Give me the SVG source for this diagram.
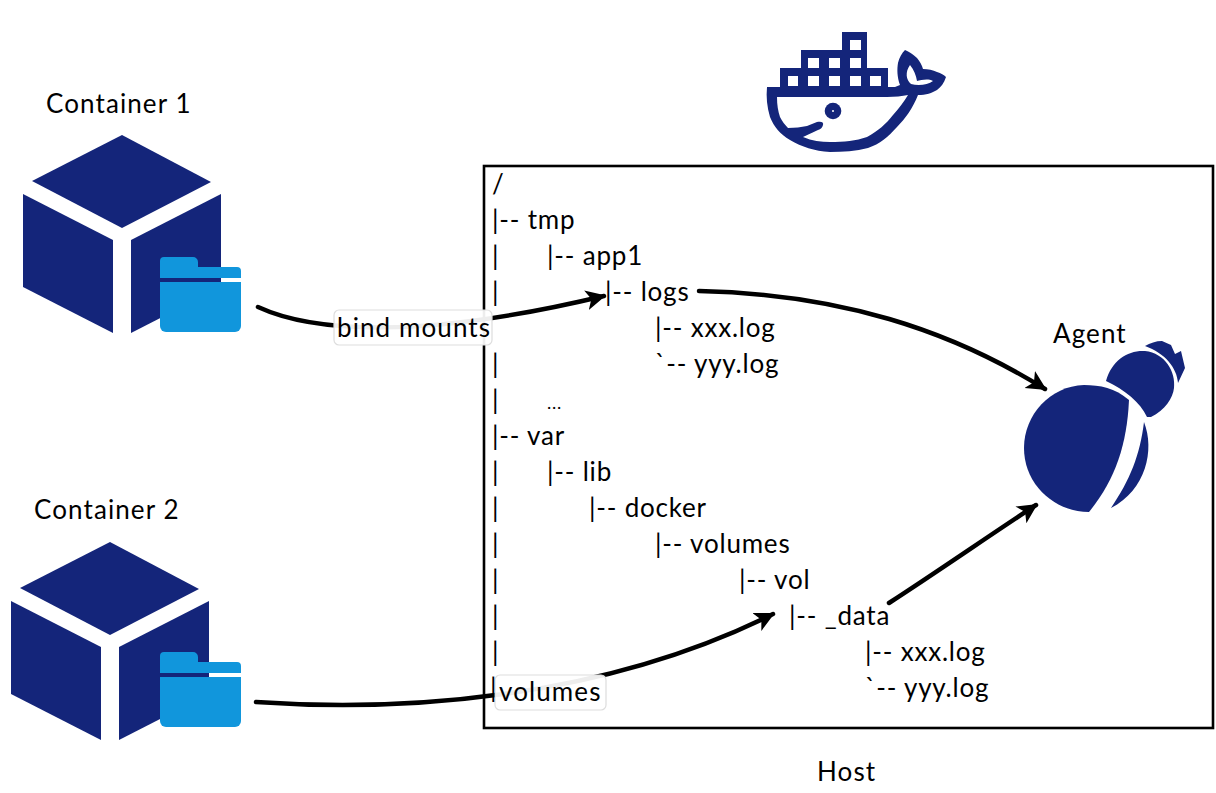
<svg xmlns="http://www.w3.org/2000/svg" width="1216" height="793" viewBox="0 0 1216 793">
<style>
text{font-family:"Lato","Liberation Sans",sans-serif;font-size:26px;letter-spacing:1.1px;fill:#000}
#tree text{letter-spacing:.8px}
.n{fill:#14257a}
.f{fill:#1196dc}
.c{fill:none;stroke:#000;stroke-width:4.500;stroke-linecap:round}
.l{fill:#fff;fill-opacity:.93;stroke:#ddd;stroke-width:1.2}
</style>
<defs>
<marker id="a" markerUnits="userSpaceOnUse" markerWidth="24" markerHeight="24" refX="18" refY="10" orient="auto">
<path d="M0 0L20 10L0 20L5 10Z" fill="#000"/>
</marker>
<g id="cube">
<path class="n" d="M111 0L200 47L111 93L21 46Z"/>
<path class="n" d="M12 59L102 105V198L12 152Z"/>
<path class="n" d="M120 105L210 59V152L120 198Z"/>
</g>
<g id="folder">
<path class="f" d="M0 4a4 4 0 0 1 4-4H33a5 5 0 0 1 5 5V10H77a4 4 0 0 1 4 4V21H0Z"/>
<path class="f" d="M0 25H81V69a6 6 0 0 1-6 6H6a6 6 0 0 1-6-6Z"/>
</g>
</defs>
<rect id="host" x="484" y="166" width="729" height="562" fill="#fff" stroke="#000" stroke-width="2.6"/>
<g id="connectors">
<path class="c" marker-end="url(#a)" d="M258 307C312 332 420 340 604 296"/>
<path class="c" marker-end="url(#a)" d="M699 291C840 294 950 330 1045 389"/>
<path class="c" marker-end="url(#a)" d="M256 702C400 712 600 700 773 614"/>
<path class="c" marker-end="url(#a)" d="M889 603C940 570 990 535 1036 505"/>
</g>
<g id="tree" transform="translate(-1 1)">
<text x="493" y="192">/</text>
<text x="493" y="228">|-- tmp</text>
<text y="264"><tspan x="493">|</tspan><tspan x="548">|-- app1</tspan></text>
<text y="300"><tspan x="493">|</tspan><tspan x="606">|-- logs</tspan></text>
<text x="656" y="336">|-- xxx.log</text>
<text y="372"><tspan x="493">|</tspan><tspan x="656">`-- yyy.log</tspan></text>
<text y="408"><tspan x="493">|</tspan><tspan x="548" font-size="18">...</tspan></text>
<text x="493" y="444">|-- var</text>
<text y="480"><tspan x="493">|</tspan><tspan x="548">|-- lib</tspan></text>
<text y="516"><tspan x="493">|</tspan><tspan x="590">|-- docker</tspan></text>
<text y="552"><tspan x="493">|</tspan><tspan x="656">|-- volumes</tspan></text>
<text y="588"><tspan x="493">|</tspan><tspan x="740">|-- vol</tspan></text>
<text y="624"><tspan x="493">|</tspan><tspan x="790">|-- _data</tspan></text>
<text y="660"><tspan x="493">|</tspan><tspan x="866">|-- xxx.log</tspan></text>
<text y="696"><tspan x="866">`-- yyy.log</tspan></text>
</g>
<g id="label-bind"><rect class="l" x="334" y="310" width="158" height="35" rx="5"/><text x="337" y="337">bind mounts</text></g>
<g id="label-volumes"><rect class="l" x="495" y="675" width="111" height="35" rx="5"/><text x="490" y="697">|</text><text x="499" y="701">volumes</text></g>
<g id="container1"><use href="#cube" x="11" y="135"/><use href="#folder" x="160" y="257"/><text x="46" y="113">Container 1</text></g>
<g id="container2"><use href="#cube" x="-1" y="542"/><use href="#folder" x="160" y="652"/><text x="34" y="519">Container 2</text></g>
<g id="docker">
<path class="n" d="M842 32H867V50H842ZM801 50H867V68H801ZM780 68H888V87H780Z"/>
<path fill="#fff" d="M850 40H861V50H850ZM808 58H819V68H808ZM829 58H840V68H829ZM850 58H861V68H850ZM788 76H798V86H788ZM808 76H819V86H808ZM829 76H840V86H829ZM850 76H861V86H850ZM870 76H881V86H870Z"/>
<path class="n" fill-rule="evenodd" d="M767 87H895L900 85C897 77 897 69 898 63C899 58 902 53 905 50C911 53 914 55 917 58C920 62 922 65 923 69C928 69 933 70 937 72C941 73 944 75 946 77C944 83 941 87 937 90C932 93 926 95 918 95C913 108 905 119 897 127C888 137 880 144 868 148C856 151 843 152 830 152C814 151 802 147 790 140C780 134 774 127 770 117C767 107 766 97 767 87ZM777 97C777 105 778 111 780 117C782 121 785 125 788 128C795 128 801 127 807 126L817 122C821 121 824 122 823 125C822 128 821 129 818 130L803 137C812 141 821 142 830 142C844 142 856 141 867 137C878 131 886 124 893 115C899 108 904 102 908 95C902 96 895 97 887 97ZM910 65C905 72 906 80 911 84C918 86 928 85 933 81C928 78 921 80 917 81C916 75 914 70 910 65Z"/>
<circle class="n" cx="833" cy="111" r="8.300"/>
<circle fill="#fff" cx="833" cy="111" r="1"/>
</g>
<g id="agent">
<path class="n" d="M1129 400C1115 388 1100 385 1084 385C1050 386 1024 415 1024 448C1024 485 1055 512 1089 512C1115 480 1127 445 1129 400Z"/>
<path class="n" d="M1144 422C1155 450 1146 490 1111 508C1130 480 1140 455 1144 422Z"/>
<path class="n" d="M1106 381C1112 360 1128 350 1145 351C1165 353 1176 372 1174 388C1173 398 1165 410 1151 417H1147C1140 402 1125 390 1106 381Z"/>
<path class="n" d="M1145 346C1150 343 1156 341 1162 341L1171 345L1175 354L1181 351L1185 368L1178 383C1177 368 1165 353 1145 346Z"/>
<text x="1053" y="343">Agent</text>
</g>
<text id="host-label" x="817" y="781">Host</text>
</svg>
